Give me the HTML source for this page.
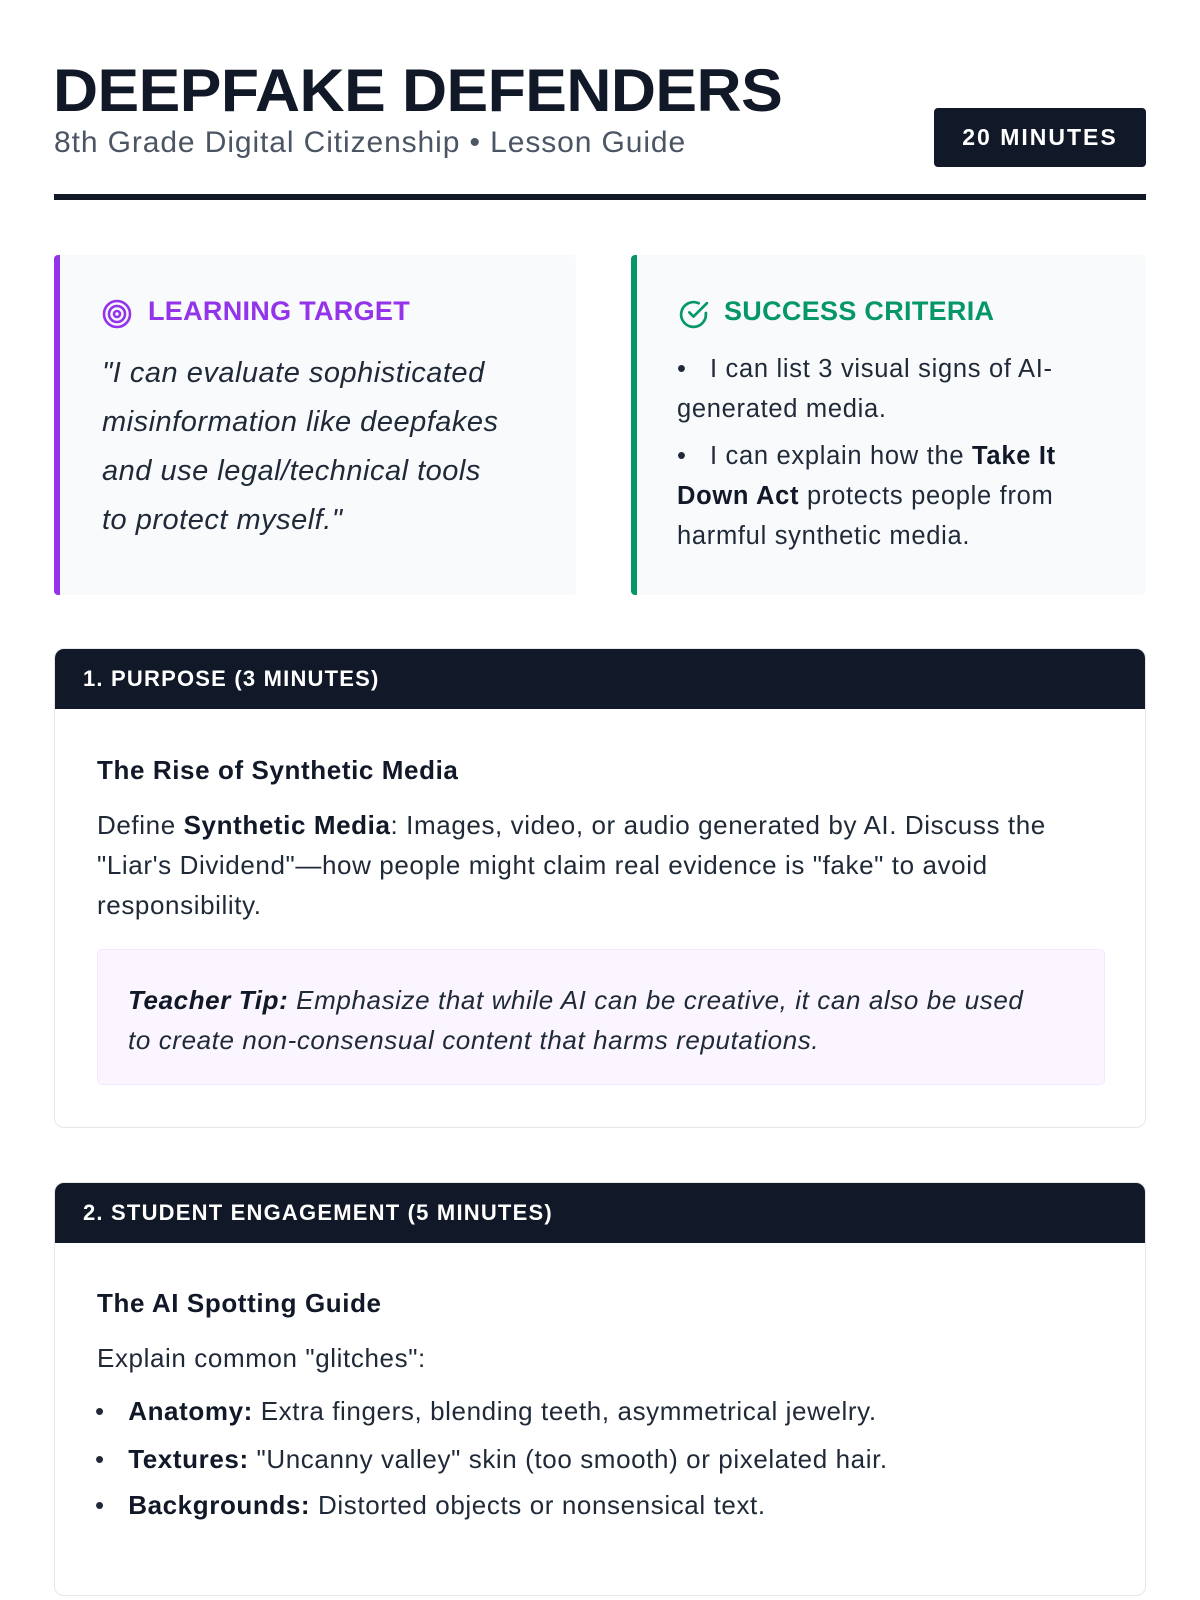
<!DOCTYPE html>
<html><head><meta charset="utf-8"><style>
*{box-sizing:border-box;margin:0;padding:0}
body{width:1200px;height:1600px;background:#fff;font-family:"Liberation Sans",sans-serif;color:#1f2937;position:relative;overflow:hidden;letter-spacing:0.6px}
.abs{position:absolute}
h1{position:absolute;left:53px;top:56px;font-size:60px;font-weight:900;color:#111827;letter-spacing:-0.5px;transform:scaleX(1.04);transform-origin:left}
.sub{left:54px;top:126px;font-size:30px;color:#4b5563;letter-spacing:0.9px}
.badge{left:934px;top:108px;width:212px;height:59px;background:#111827;color:#fff;border-radius:4px;font-weight:bold;font-size:23px;letter-spacing:2px;text-align:center;line-height:59px}
.rule{left:54px;top:194px;width:1092px;height:6px;background:#111827}
.card{top:255px;height:340px;background:#f8fafc;border-radius:4px}
.ch{font-size:27px;font-weight:bold;position:absolute;top:296px;letter-spacing:0.3px}
.quote{left:102px;top:349px;width:405px;font-size:29px;font-style:italic;line-height:49px;color:#1f2937;position:absolute;letter-spacing:0.5px}
.crit{left:677px;top:349px;width:420px;font-size:25.5px;line-height:40px;position:absolute;letter-spacing:0.7px}
.crit p{margin-bottom:7px}
.sec{left:54px;width:1092px;border:1px solid #e5e7eb;border-radius:10px;overflow:hidden;background:#fff}
.sh{height:60px;background:#111827;color:#fff;font-weight:bold;font-size:22px;line-height:60px;padding-left:28px;letter-spacing:1.2px}
.st{font-size:26px;font-weight:bold;color:#111827;position:absolute;left:42px}
.p{font-size:26px;line-height:40px;position:absolute;left:42px}
</style></head><body>
<h1>DEEPFAKE DEFENDERS</h1>
<div class="abs sub">8th Grade Digital Citizenship • Lesson Guide</div>
<div class="abs badge">20 MINUTES</div>
<div class="abs rule"></div>

<div class="abs card" style="left:54px;width:522px;border-left:6px solid #9333ea"></div>
<svg class="abs" style="left:101px;top:298px" width="32" height="32" viewBox="0 0 32 32" fill="none" stroke="#9333ea" stroke-width="2.6"><circle cx="16" cy="16" r="13"/><circle cx="16" cy="16" r="8"/><circle cx="16" cy="16" r="3"/></svg>
<div class="ch" style="left:148px;color:#9333ea">LEARNING TARGET</div>
<div class="quote">"I can evaluate sophisticated misinformation like deepfakes and use legal/technical tools to protect myself."</div>

<div class="abs card" style="left:631px;width:515px;border-left:6px solid #059669"></div>
<svg class="abs" style="left:677px;top:298px" width="33" height="33" viewBox="0 0 32 32" fill="none" stroke="#059669" stroke-width="2.6" stroke-linecap="round" stroke-linejoin="round"><path d="M28 14.5V16a12 12 0 1 1-7-10.9"/><path d="M29 5L16 18l-4-4"/></svg>
<div class="ch" style="left:724px;color:#059669">SUCCESS CRITERIA</div>
<div class="crit">
<p>•&nbsp;&nbsp;&nbsp;I can list 3 visual signs of AI-generated media.</p>
<p>•&nbsp;&nbsp;&nbsp;I can explain how the <b style="color:#111827">Take It Down Act</b> protects people from harmful synthetic media.</p>
</div>

<div class="abs sec" style="top:648px;height:480px">
<div class="sh">1. PURPOSE (3 MINUTES)</div>
<div class="st" style="top:106px">The Rise of Synthetic Media</div>
<div class="p" style="top:156px;width:1010px">Define <b style="color:#111827">Synthetic Media</b>: Images, video, or audio generated by AI. Discuss the "Liar's Dividend"—how people might claim real evidence is "fake" to avoid responsibility.</div>
<div class="abs" style="left:42px;top:300px;width:1008px;height:136px;background:#faf5ff;border:1px solid #f3e8ff;border-radius:5px;padding:30px 70px 30px 30px;font-size:26px;line-height:40px;font-style:italic;color:#1f2937"><b style="color:#111827">Teacher Tip:</b> Emphasize that while AI can be creative, it can also be used to create non-consensual content that harms reputations.</div>
</div>

<div class="abs sec" style="top:1182px;height:414px">
<div class="sh">2. STUDENT ENGAGEMENT (5 MINUTES)</div>
<div class="st" style="top:105px">The AI Spotting Guide</div>
<div class="p" style="top:155px">Explain common "glitches":</div>
<div class="p" style="top:208px;left:40px">•&nbsp;&nbsp;&nbsp;<b style="color:#111827">Anatomy:</b> Extra fingers, blending teeth, asymmetrical jewelry.</div>
<div class="p" style="top:256px;left:40px">•&nbsp;&nbsp;&nbsp;<b style="color:#111827">Textures:</b> "Uncanny valley" skin (too smooth) or pixelated hair.</div>
<div class="p" style="top:302px;left:40px">•&nbsp;&nbsp;&nbsp;<b style="color:#111827">Backgrounds:</b> Distorted objects or nonsensical text.</div>
</div>
</body></html>
